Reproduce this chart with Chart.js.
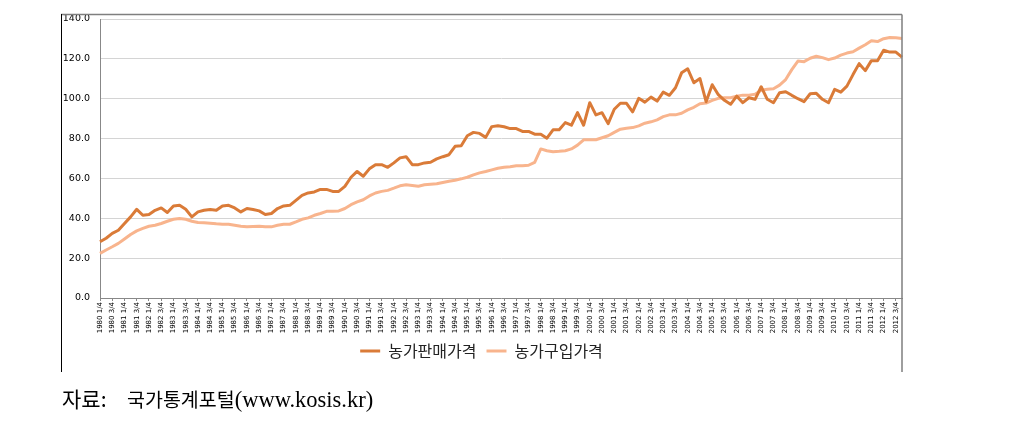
<!DOCTYPE html>
<html>
<head>
<meta charset="utf-8">
<script src="https://cdn.jsdelivr.net/npm/chart.js@4/dist/chart.umd.min.js"></script>
<style>
  html, body { margin: 0; padding: 0; background: #fff; }
  #wrap { position: relative; width: 1010px; height: 437px; }
  #chart { position: absolute; left: 0; top: 0; }
  #source {
    position: absolute; left: 62px; top: 383px;
    font-family: "Liberation Serif", "Noto Sans CJK KR", serif;
    font-size: 21px; color: #000; white-space: pre;
  }
  #source .ko { font-family: "Noto Sans CJK KR", sans-serif; font-size: 19.5px; }
  #source .head { display: inline-block; width: 65px; font-size: 21px; }
  #source .en { font-size: 22.5px; }
</style>
</head>
<body>
<div id="wrap">
  <canvas id="chart" width="1010" height="390"></canvas>
  <div id="source"><span class="ko head">자료:</span><span class="ko">국가통계포털</span><span class="en">(www.kosis.kr)</span></div>
</div>
<script>
const years = [];
for (let y = 1980; y <= 2012; y++) years.push(y);
const quarters = ['1/4', '2/4', '3/4', '4/4'];

// 분기 라벨 (1980 1/4 ~ 2012 4/4)
const labels = [];
years.forEach(function (y) {
  quarters.forEach(function (q) { labels.push(y + ' ' + q); });
});

const yTicks = [0, 20, 40, 60, 80, 100, 120, 140];

// 농가판매가격
const salePrice = [
  28.2, 30.0, 32.4, 34.0, 37.4, 40.7, 44.5, 41.5, 41.9, 44.0,
  45.2, 42.9, 46.2, 46.5, 44.5, 40.7, 43.2, 44.0, 44.4, 44.0,
  46.2, 46.5, 45.2, 43.2, 44.9, 44.4, 43.7, 41.9, 42.4, 44.9,
  46.2, 46.5, 49.0, 51.5, 52.7, 53.2, 54.5, 54.5, 53.5, 53.5,
  56.0, 60.6, 63.5, 61.1, 64.8, 66.9, 66.9, 65.6, 67.8, 70.3,
  70.9, 66.9, 66.9, 67.8, 68.1, 69.8, 70.9, 71.9, 76.1, 76.4,
  81.4, 83.1, 82.6, 80.6, 86.0, 86.4, 85.9, 85.0, 85.0, 83.6,
  83.6, 82.2, 82.2, 80.2, 84.4, 84.4, 88.0, 86.7, 93.0, 86.7,
  98.0, 91.9, 93.0, 87.5, 94.7, 97.7, 97.7, 93.4, 100.2, 98.3,
  100.8, 98.8, 103.3, 101.7, 105.5, 113.0, 115.0, 108.0, 110.1, 98.5,
  107.0, 102.0, 99.2, 97.2, 101.3, 98.0, 100.5, 99.7, 106.0, 99.7,
  98.0, 103.0, 103.5, 101.7, 100.0, 98.5, 102.5, 102.7, 99.7, 98.0,
  104.7, 103.3, 106.3, 112.1, 117.6, 114.1, 119.1, 119.1, 124.3, 123.4,
  123.4, 120.9
];

// 농가구입가격
const buyPrice = [
  22.4, 24.1, 25.7, 27.4, 29.6, 31.9, 33.7, 34.9, 36.0, 36.5,
  37.4, 38.5, 39.5, 39.9, 39.5, 38.5, 37.9, 37.7, 37.5, 37.2,
  37.0, 37.0, 36.5, 36.0, 35.7, 35.9, 36.0, 35.7, 35.7, 36.5,
  37.0, 37.0, 38.2, 39.5, 40.2, 41.5, 42.4, 43.5, 43.5, 43.7,
  44.9, 46.8, 48.2, 49.3, 51.2, 52.7, 53.5, 54.0, 55.1, 56.3,
  56.8, 56.5, 56.1, 56.8, 57.1, 57.3, 58.0, 58.6, 59.1, 59.8,
  60.6, 61.8, 62.8, 63.5, 64.3, 65.1, 65.6, 65.9, 66.4, 66.4,
  66.6, 68.1, 74.8, 73.9, 73.4, 73.6, 73.9, 74.8, 76.7, 79.4,
  79.4, 79.4, 80.4, 81.4, 83.1, 84.7, 85.2, 85.5, 86.4, 87.7,
  88.4, 89.4, 91.0, 91.9, 91.9, 92.7, 94.4, 95.7, 97.5, 97.8,
  99.2, 100.2, 100.5, 100.5, 101.3, 101.8, 101.8, 102.2, 104.3, 104.7,
  105.0, 106.8, 109.6, 114.6, 118.9, 118.6, 120.3, 121.3, 120.6, 119.6,
  120.4, 121.9, 122.9, 123.6, 125.4, 127.1, 129.1, 128.7, 130.1, 130.7,
  130.6, 130.2
];

const darkOrange = '#DA7B38';
const lightOrange = '#F8B48D';

// 차트 바깥 테두리
const framePlugin = {
  id: 'frame',
  afterDraw: function (chart) {
    const ctx = chart.ctx;
    ctx.save();
    ctx.lineWidth = 1.5;
    ctx.strokeStyle = '#7f7f7f';
    ctx.beginPath();
    ctx.moveTo(61, 14.5);
    ctx.lineTo(902, 14.5);
    ctx.moveTo(902, 14.5);
    ctx.lineTo(902, 372);
    ctx.stroke();
    ctx.lineWidth = 1;
    ctx.strokeStyle = '#000';
    ctx.beginPath();
    ctx.moveTo(61.5, 14);
    ctx.lineTo(61.5, 372);
    ctx.stroke();
    ctx.restore();
  }
};

new Chart(document.getElementById('chart'), {
  type: 'line',
  data: {
    labels: labels,
    datasets: [
      {
        label: '농가판매가격',
        data: salePrice,
        borderColor: darkOrange,
        backgroundColor: darkOrange,
        borderWidth: 3,
        pointRadius: 0,
        tension: 0,
        borderJoinStyle: 'round'
      },
      {
        label: '농가구입가격',
        data: buyPrice,
        borderColor: lightOrange,
        backgroundColor: lightOrange,
        borderWidth: 3,
        pointRadius: 0,
        tension: 0,
        borderJoinStyle: 'round'
      }
    ]
  },
  options: {
    responsive: false,
    animation: false,
    devicePixelRatio: 1,
    layout: { padding: { left: 61, right: 108, top: 19, bottom: 21 } },
    plugins: {
      tooltip: { enabled: false },
      legend: {
        position: 'bottom',
        labels: {
          usePointStyle: true,
          pointStyle: 'line',
          pointStyleWidth: 20,
          padding: 10,
          color: '#222',
          font: { family: '"Noto Sans CJK KR", sans-serif', size: 16 }
        }
      }
    },
    scales: {
      x: {
        afterFit: function (scale) { scale.height = 35; },
        border: { display: true, color: '#888', width: 1 },
        grid: {
          drawOnChartArea: false,
          drawTicks: true,
          tickLength: 3,
          color: function (c) { return c.index % 2 ? 'rgba(0,0,0,0)' : '#888'; }
        },
        ticks: {
          autoSkip: false,
          minRotation: 90,
          maxRotation: 90,
          padding: 1,
          color: '#000',
          font: { family: '"DejaVu Sans", sans-serif', size: 7 },
          callback: function (v, i) { return i % 2 ? '' : labels[i]; }
        }
      },
      y: {
        min: yTicks[0],
        max: yTicks[yTicks.length - 1],
        afterFit: function (scale) { scale.width = 39; },
        afterBuildTicks: function (scale) {
          scale.ticks = yTicks.map(function (v) { return { value: v }; });
        },
        border: { display: true, color: '#888', width: 1 },
        grid: { color: '#d4d4d4', lineWidth: 1, drawTicks: false },
        ticks: {
          padding: 10,
          color: '#000',
          font: { family: '"DejaVu Sans", sans-serif', size: 9.5 },
          callback: function (v) { return v.toFixed(1); }
        }
      }
    }
  },
  plugins: [framePlugin]
});
</script>
</body>
</html>
